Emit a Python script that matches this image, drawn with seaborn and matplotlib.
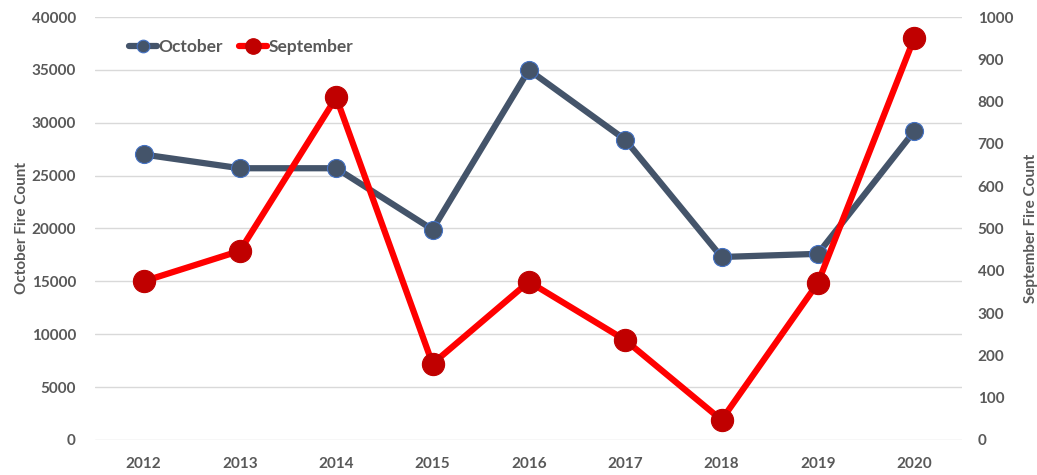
import matplotlib
matplotlib.use("Agg")
import matplotlib.pyplot as plt
import seaborn as sns
import pandas as pd

years = [2012, 2013, 2014, 2015, 2016, 2017, 2018, 2019, 2020]
october = [27000, 25700, 25700, 19900, 35000, 28400, 17300, 17600, 29200]
september = [375, 447, 810, 180, 374, 236, 47, 371, 950]

df = pd.DataFrame({"Year": years, "October": october, "September": september})

sns.set_theme(style="white")
plt.rcParams['font.family'] = ['Lato', 'DejaVu Sans']

GRAY = "#595959"
OCT = "#44546A"
SEP_LINE = "#FF0000"
SEP_MK = "#C00000"

fig = plt.figure(figsize=(10.37, 4.75), dpi=100)
ax = fig.add_axes([0.092, 0.074, 0.836, 0.890])
ax2 = ax.twinx()

sns.lineplot(data=df, x="Year", y="October", ax=ax, color=OCT, linewidth=4.5,
             marker="o", markersize=13, markerfacecolor=OCT,
             markeredgecolor="#4472C4", markeredgewidth=0.8, label="October", legend=False)
sns.lineplot(data=df, x="Year", y="September", ax=ax2, color=SEP_LINE, linewidth=4.5,
             marker="o", markersize=16, markerfacecolor=SEP_MK,
             markeredgecolor=SEP_MK, markeredgewidth=0.8, label="September", legend=False)

ax.set_ylim(0, 40000)
ax2.set_ylim(0, 1000)
ax.set_xlim(2011.5, 2020.5)
ax.set_yticks(range(0, 40001, 5000))
ax2.set_yticks(range(0, 1001, 100))
ax.set_xticks(years)
ax.set_xticklabels([str(y) for y in years])

ax.grid(axis="y", color="#D9D9D9", linewidth=1)
ax.grid(axis="x", visible=False)
ax2.grid(False)
ax.set_axisbelow(True)

for a in (ax, ax2):
    for s in a.spines.values():
        s.set_visible(False)
    a.tick_params(axis="both", length=0, labelsize=11, labelcolor=GRAY)
    for lbl in a.get_xticklabels() + a.get_yticklabels():
        lbl.set_fontweight("bold")

ax.tick_params(axis="x", pad=12)
ax.tick_params(axis="y", pad=14)
ax2.tick_params(axis="y", pad=11)

ax.set_xlabel("")
ax.set_ylabel("October Fire Count", fontsize=11, fontweight="bold", color=GRAY, labelpad=2)
ax2.set_ylabel("September Fire Count", fontsize=11, fontweight="bold", color=GRAY, labelpad=8)

h1, l1 = ax.get_legend_handles_labels()
h2, l2 = ax2.get_legend_handles_labels()
leg = ax2.legend(h1 + h2, l1 + l2, loc="center left", bbox_to_anchor=(0.025, 0.929),
                 frameon=False, fontsize=12.5, handlelength=1.6, handletextpad=0.1,
                 columnspacing=0.9, ncol=2, markerscale=0.7, borderpad=0.2)
for t in leg.get_texts():
    t.set_color(GRAY)
    t.set_fontweight("bold")

fig.savefig("out.png", dpi=100)
